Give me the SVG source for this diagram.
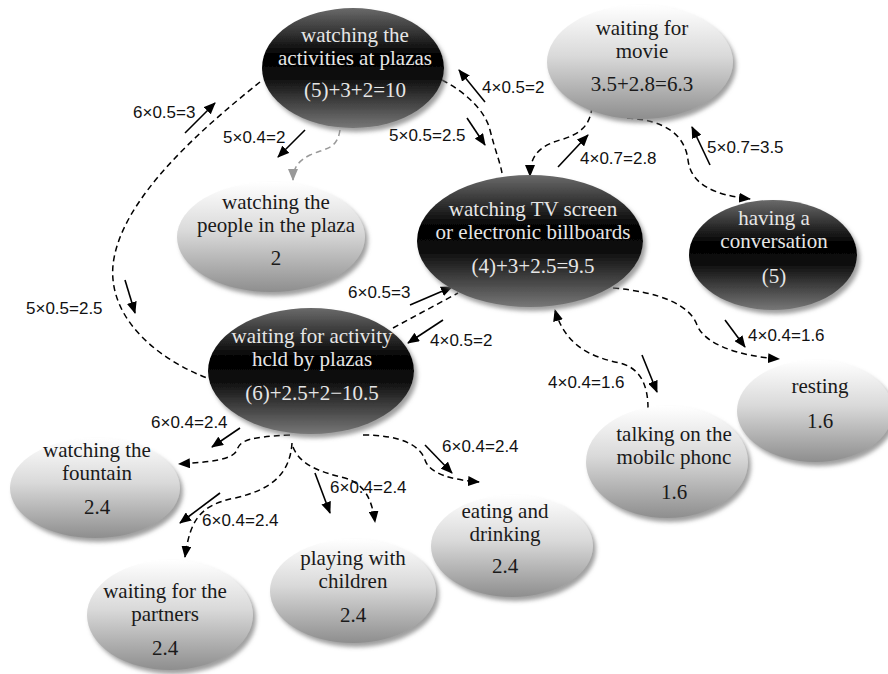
<svg xmlns="http://www.w3.org/2000/svg" width="888" height="674" viewBox="0 0 888 674">
<defs>
<linearGradient id="gDark" x1="0" y1="0" x2="0" y2="1">
<stop offset="0" stop-color="#6a6a6a"/>
<stop offset="0.4" stop-color="#000"/>
<stop offset="0.58" stop-color="#0d0d0d"/>
<stop offset="1" stop-color="#777"/>
</linearGradient>
<linearGradient id="gLight" x1="0" y1="0" x2="0" y2="1">
<stop offset="0" stop-color="#ffffff"/>
<stop offset="0.45" stop-color="#d9d9d9"/>
<stop offset="1" stop-color="#8e8e8e"/>
</linearGradient>
<filter id="sh" x="-10%" y="-10%" width="125%" height="130%">
<feDropShadow dx="3" dy="4" stdDeviation="2" flood-color="#777" flood-opacity="0.7"/>
</filter>
<marker id="ah" viewBox="0 0 12 10" refX="11" refY="5" markerWidth="12" markerHeight="10" markerUnits="userSpaceOnUse" orient="auto">
<path d="M0,0 L12,5 L0,10 z" fill="#000"/>
</marker>
<marker id="ahg" viewBox="0 0 12 10" refX="11" refY="5" markerWidth="12" markerHeight="10" markerUnits="userSpaceOnUse" orient="auto">
<path d="M0,0 L12,5 L0,10 z" fill="#999"/>
</marker>
<style>
.dark{fill:url(#gDark);filter:url(#sh)}
.light{fill:url(#gLight);filter:url(#sh)}
.nt{font-family:"Liberation Serif","Times New Roman",serif;font-size:21px;text-anchor:middle}
.dk{fill:#e6e6e6}
.lt{fill:#1a1a1a}
.dash{fill:none;stroke:#000;stroke-width:1.5;stroke-dasharray:6 4}
.dashg{fill:none;stroke:#999;stroke-width:1.5;stroke-dasharray:6 4}
.arr{stroke:#000;stroke-width:1.6;fill:none}
.lbl{font-family:"Liberation Sans",Arial,sans-serif;font-size:17px;fill:#111}
</style>
</defs>
<rect width="888" height="674" fill="#fff"/>

<g id="connectors">
<path class="dash" d="M260,82 C200,130 120,200 113,265 C108,320 160,360 207,378"/>
<path class="dashg" d="M340,130 C337,150 325,148 310,155 C298,161 293,168 293,180" marker-end="url(#ahg)"/>
<path class="dash" d="M442,80 C465,92 485,110 490,130 C495,150 500,162 502,173"/>
<path class="dash" d="M592,107 C590,128 577,135 560,140 C540,146 530,155 530,176" marker-end="url(#ah)"/>
<path class="dash" d="M627,118 C665,120 685,135 688,160 C691,185 715,195 750,199" marker-end="url(#ah)"/>
<path class="dash" d="M393,328 L458,293"/>
<path class="dash" d="M648,408 C648,385 640,368 620,363 C590,357 565,345 555,310" marker-end="url(#ah)"/>
<path class="dash" d="M613,288 C660,292 690,305 697,325 C705,345 740,356 779,359" marker-end="url(#ah)"/>
<path class="dash" d="M363,435 C400,435 420,445 425,460 C430,475 455,480 479,482" marker-end="url(#ah)"/>
<path class="dash" d="M290,435 C250,437 240,440 237,450 C233,460 210,462 179,464" marker-end="url(#ah)"/>
<path class="dash" d="M292,443 C290,475 270,490 235,498 C200,505 190,520 185,557" marker-end="url(#ah)"/>
<path class="dash" d="M293,447 C300,465 320,472 345,478 C365,484 372,500 375,522" marker-end="url(#ah)"/>

<line class="arr" x1="185" y1="133" x2="215" y2="103" marker-end="url(#ah)"/>
<line class="arr" x1="125" y1="280" x2="135" y2="313" marker-end="url(#ah)"/>
<line class="arr" x1="305" y1="130" x2="278" y2="157" marker-end="url(#ah)"/>
<line class="arr" x1="485" y1="102" x2="459" y2="70" marker-end="url(#ah)"/>
<line class="arr" x1="467" y1="118" x2="485" y2="145" marker-end="url(#ah)"/>
<line class="arr" x1="558" y1="167" x2="588" y2="135" marker-end="url(#ah)"/>
<line class="arr" x1="710" y1="165" x2="692" y2="127" marker-end="url(#ah)"/>
<line class="arr" x1="410" y1="305" x2="452" y2="287" marker-end="url(#ah)"/>
<line class="arr" x1="443" y1="320" x2="408" y2="343" marker-end="url(#ah)"/>
<line class="arr" x1="642" y1="355" x2="657" y2="392" marker-end="url(#ah)"/>
<line class="arr" x1="725" y1="320" x2="745" y2="347" marker-end="url(#ah)"/>
<line class="arr" x1="425" y1="445" x2="452" y2="473" marker-end="url(#ah)"/>
<line class="arr" x1="240" y1="428" x2="212" y2="447" marker-end="url(#ah)"/>
<line class="arr" x1="220" y1="493" x2="180" y2="523" marker-end="url(#ah)"/>
<line class="arr" x1="315" y1="473" x2="330" y2="513" marker-end="url(#ah)"/>

<text class="lbl" x="133" y="118">6×0.5=3</text>
<text class="lbl" x="223" y="143">5×0.4=2</text>
<text class="lbl" x="389" y="141">5×0.5=2.5</text>
<text class="lbl" x="482" y="93">4×0.5=2</text>
<text class="lbl" x="580" y="164">4×0.7=2.8</text>
<text class="lbl" x="707" y="153">5×0.7=3.5</text>
<text class="lbl" x="26" y="314">5×0.5=2.5</text>
<text class="lbl" x="348" y="298">6×0.5=3</text>
<text class="lbl" x="430" y="346">4×0.5=2</text>
<text class="lbl" x="548" y="388">4×0.4=1.6</text>
<text class="lbl" x="748" y="341">4×0.4=1.6</text>
<text class="lbl" x="151" y="428">6×0.4=2.4</text>
<text class="lbl" x="442" y="452">6×0.4=2.4</text>
<text class="lbl" x="330" y="493">6×0.4=2.4</text>
<text class="lbl" x="202" y="526">6×0.4=2.4</text>
</g>

<g id="n-activities">
<ellipse class="dark" cx="353" cy="68" rx="91" ry="60"/>
<text class="nt dk" x="355" y="42">watching the</text>
<text class="nt dk" x="355" y="65">activities at plazas</text>
<text class="nt dk" x="355" y="97">(5)+3+2=10</text>
</g>

<g id="n-people">
<ellipse class="light" cx="271" cy="237" rx="94" ry="55"/>
<text class="nt lt" x="276" y="209">watching the</text>
<text class="nt lt" x="276" y="232">people in the plaza</text>
<text class="nt lt" x="276" y="265">2</text>
</g>

<g id="n-movie">
<ellipse class="light" cx="640" cy="62" rx="93" ry="57"/>
<text class="nt lt" x="642" y="35">waiting for</text>
<text class="nt lt" x="642" y="58">movie</text>
<text class="nt lt" x="642" y="91">3.5+2.8=6.3</text>
</g>

<g id="n-tv">
<ellipse class="dark" cx="530" cy="241" rx="113" ry="66"/>
<text class="nt dk" x="533" y="216">watching TV screen</text>
<text class="nt dk" x="533" y="239">or electronic billboards</text>
<text class="nt dk" x="533" y="273">(4)+3+2.5=9.5</text>
</g>

<g id="n-conversation">
<ellipse class="dark" cx="773" cy="255" rx="84" ry="55"/>
<text class="nt dk" x="774" y="225">having a</text>
<text class="nt dk" x="774" y="248">conversation</text>
<text class="nt dk" x="774" y="283">(5)</text>
</g>

<g id="n-waiting-activity">
<ellipse class="dark" cx="311" cy="371" rx="103" ry="63"/>
<text class="nt dk" x="312" y="343">waiting for activity</text>
<text class="nt dk" x="312" y="366">hcld by plazas</text>
<text class="nt dk" x="312" y="400">(6)+2.5+2−10.5</text>
</g>

<g id="n-fountain">
<ellipse class="light" cx="95" cy="488" rx="85" ry="50"/>
<text class="nt lt" x="97" y="457">watching the</text>
<text class="nt lt" x="97" y="480">fountain</text>
<text class="nt lt" x="97" y="514">2.4</text>
</g>

<g id="n-partners">
<ellipse class="light" cx="170" cy="615" rx="83" ry="55"/>
<text class="nt lt" x="165" y="598">waiting for the</text>
<text class="nt lt" x="165" y="621">partners</text>
<text class="nt lt" x="165" y="655">2.4</text>
</g>

<g id="n-children">
<ellipse class="light" cx="353" cy="591" rx="83" ry="52"/>
<text class="nt lt" x="353" y="565">playing with</text>
<text class="nt lt" x="353" y="588">children</text>
<text class="nt lt" x="353" y="622">2.4</text>
</g>

<g id="n-eating">
<ellipse class="light" cx="512" cy="546" rx="81" ry="51"/>
<text class="nt lt" x="505" y="518">eating and</text>
<text class="nt lt" x="505" y="541">drinking</text>
<text class="nt lt" x="505" y="573">2.4</text>
</g>

<g id="n-mobile">
<ellipse class="light" cx="667" cy="462" rx="81" ry="56"/>
<text class="nt lt" x="674" y="441">talking on the</text>
<text class="nt lt" x="674" y="464">mobilc phonc</text>
<text class="nt lt" x="674" y="499">1.6</text>
</g>

<g id="n-resting">
<ellipse class="light" cx="815" cy="411" rx="78" ry="51"/>
<text class="nt lt" x="820" y="393">resting</text>
<text class="nt lt" x="820" y="428">1.6</text>
</g>
</svg>
